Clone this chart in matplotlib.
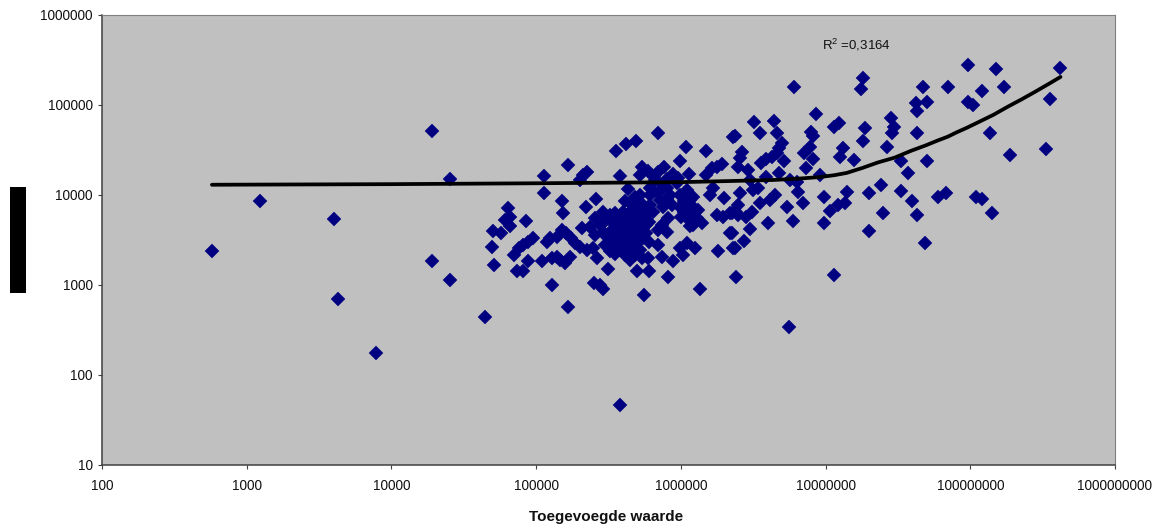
import matplotlib
matplotlib.use("Agg")
import matplotlib.pyplot as plt
from matplotlib.patches import Rectangle
from matplotlib.ticker import FixedLocator, FixedFormatter, NullLocator

plt.rcParams['font.family'] = ['Liberation Sans', 'DejaVu Sans']
plt.rcParams['mathtext.default'] = 'regular'

outlier_x = [575,1230,4000,4300,7800,19000,19000,25500,25500,44000,380000,5600000,11500000]
outlier_y = [2400,8600,5400,700,175,51000,1850,15000,1150,440,46,340,1290]

left_x = [166000,129000,557000,1350000,252000,275000,290000,817000,2400000,500000,600000,314000,540000,590000,
          51000,49500,50500,57000,61000,64000,66000,66000,85000,74000,81000,88000,70000,76000,81000,88000,95000,
          110000,119000,125000,129000,140000,146000,158000,172000,140000,152000,161000,175000,186000,200000,224000,
          248000,264000,154000,152000,114000,114000,166000,200000,212000,224000,222000,260000,208000,236000,256000,
          290000,290000,350000,398000,335000]
left_y = [570,1000,775,900,1050,1000,900,1230,1230,1430,1430,1500,2000,2000,
          1670,2650,4000,3800,5300,7200,5700,4500,5150,1430,1430,1850,2150,2600,2800,3000,3300,
          1850,3000,3300,2000,2050,1900,1750,2050,3400,4100,3800,3300,2950,2650,2450,
          2600,2000,6300,8600,10500,16300,21500,14700,16700,18000,7400,9000,4300,4400,5500,
          6500,3800,6300,6500,4100]

core_x = [325000,350000,380000,412000,447000,483000,350000,380000,412000,447000,483000,525000,570000,380000,412000,
          447000,483000,525000,570000,350000,380000,412000,447000,483000,525000,412000,447000,483000,525000,325000,
          300000,412000,447000,600000,560000,600000]
core_y = [5500,4700,5300,6000,5500,6300,3600,4100,4650,4100,4650,5300,4700,3160,3600,
          3160,3600,4100,3800,2800,2450,2800,2450,2800,3160,2150,1900,2150,2450,3160,
          2800,5000,6500,6500,5500,5000]

mid_x = [356000,420000,490000,697000,1080000,1490000,990000,2300000,380000,540000,525000,590000,690000,760000,880000,
         1140000,1500000,1640000,1920000,1770000,430000,483000,412000,610000,700000,800000,940000,1100000,1210000,
         1120000,990000,750000,640000,550000,525000,1660000,1590000,2000000,1310000,1290000,1210000,1400000,1770000,
         1950000,2200000,2400000,815000,740000,690000,800000,2200000,2300000,1800000,690000,740000,880000,990000,
         1100000,1250000,1030000]
mid_y = [30800,36900,39800,49000,34000,30800,23900,44000,16300,20400,16700,18600,18000,20400,17100,
         17100,16700,19900,22000,20400,11600,9500,8600,12000,10500,12000,13500,11400,9500,
         7800,7400,7400,6500,7200,8400,12000,10000,9200,6800,5500,4700,4900,6000,
         5700,6300,6500,5500,4700,4100,3900,3800,2600,2400,2800,2050,1850,2600,
         2950,2600,2150]

dense_x = [610000,660000,720000,840000,990000,1160000,870000,525000,460000,570000,610000,325000,277000,256000,300000,
           300000,325000,350000,550000,600000,800000,750000,650000,800000,950000,1250000,1050000,1000000,1100000,
           1150000,1200000,1050000]
dense_y = [10000,14700,8800,10000,10000,8800,7800,10000,7800,6000,7800,6000,4650,3600,5200,
           3700,2400,2200,3300,3000,9000,12500,16000,15000,15500,7000,8500,5700,5500,
           4500,6500,6400]

right_x = [97000000,150000000,419000000,46800000,70500000,172000000,121000000,6040000,18000000,17500000,357000000,
           97000000,105000000,41900000,49900000,42500000,8570000,3200000,4400000,3500000,2360000,4650000,5000000,
           4800000,4600000,4250000,3900000,3600000,5200000,2640000,2550000,2500000,2900000,7900000,8200000,7800000,
           7050000,8200000,7300000,12300000,11400000,18600000,18000000,13100000,12500000,15800000,28100000,29500000,
           29000000,26400000,42500000,33000000,37400000,49900000,137000000,189000000,335000000,24000000,33000000,
           19800000,14000000,13700000,12100000,10800000,9800000,9800000,24800000,19800000,39800000,42500000,48300000,
           59400000,68000000,110000000,121000000,142000000,2360000,2750000,3000000,4000000,6000000,5400000,7000000,
           9200000,6300000,6400000,5700000,4500000,4100000,3500000,3100000,2800000,2500000,2250000,2550000,2500000,
           3150000,3400000,3900000,4800000,3000000,2250000]
right_y = [278000,251000,257000,158000,158000,158000,143000,158000,199000,150000,117000,
           108000,100000,105000,108000,85700,79400,64600,66000,49000,45000,49000,37800,
           33300,29000,26500,25000,22600,24000,30000,26000,20400,18900,49500,45000,34000,
           29000,25000,20000,63000,56700,56000,39800,33000,26700,24500,71800,57000,
           49000,34000,49000,24000,17500,24000,49000,27800,32500,12900,11100,
           10500,10900,8200,7800,6700,9500,4900,6300,4000,8600,6000,2950,
           9500,10500,9500,9000,6300,2600,3100,4200,4900,5200,7300,8200,
           16700,13800,10900,14700,10000,8800,8200,6500,5700,6000,6300,10500,7800,
           11400,12000,16000,17500,14700,3800]

trend_x = [575,10000,100000,1000000,2200000,4400000,6500000,9000000,11500000,14000000,18000000,23000000,30000000,39000000,
           49000000,60000000,70000000,79000000,95000000,115000000,145000000,180000000,225000000,280000000,345000000,420000000]
trend_y = [13000,13200,13500,13900,14300,14700,15200,15800,16600,17600,20000,23000,26000,31000,
           35500,40500,44500,49000,56000,65000,78000,95000,115000,140000,170000,205000]

x_ticks = [100,1000,10000,100000,1000000,10000000,100000000,1000000000]
y_ticks = [10,100,1000,10000,100000,1000000]

fig = plt.figure(figsize=(11.63,5.29), dpi=100)
W, H = 1163, 529
ax = fig.add_axes([102/W, 1-465/H, (1115-102)/W, (465-15)/H])
ax.set_facecolor('#C0C0C0')
ax.set_xscale('log'); ax.set_yscale('log')
ax.set_xlim(100,1e9); ax.set_ylim(10,1e6)

for xs, ys in [(outlier_x,outlier_y),(left_x,left_y),(core_x,core_y),(mid_x,mid_y),(dense_x,dense_y),(right_x,right_y)]:
    ax.plot(xs, ys, ls='none', marker='D', ms=7.2, mfc='#000080', mec='#000080', mew=0.3, zorder=2, clip_on=False)
ax.plot(trend_x, trend_y, color='black', lw=2.7, zorder=3, solid_capstyle='round')

ax.xaxis.set_major_locator(FixedLocator(x_ticks))
ax.xaxis.set_major_formatter(FixedFormatter([str(v) for v in x_ticks]))
ax.yaxis.set_major_locator(FixedLocator(y_ticks))
ax.yaxis.set_major_formatter(FixedFormatter([str(v) for v in y_ticks]))
ax.xaxis.set_minor_locator(NullLocator()); ax.yaxis.set_minor_locator(NullLocator())
ax.tick_params(axis='both', which='major', labelsize=9.8, length=3, width=0.8, color='#404040', labelcolor='#111111', pad=3.5)
ax.tick_params(axis='x', pad=7)
for s in ['left','bottom']:
    ax.spines[s].set_color('#404040'); ax.spines[s].set_linewidth(1.1)
for s in ['top','right']:
    ax.spines[s].set_color('#808080'); ax.spines[s].set_linewidth(0.8)

ax.text(856/W, 1-45/H, r'R$^2$ =0,3164', transform=fig.transFigure, ha='center', va='center', fontsize=9.5, color='#111111')
fig.text(606/W, 1-517/H, 'Toegevoegde waarde', ha='center', va='center', fontsize=11, fontweight='bold', color='#111111')
fig.add_artist(Rectangle((10/W, 1-293/H), 16/W, 106/H, transform=fig.transFigure, fc='black', ec='none'))

fig.savefig('out.png', dpi=100)
